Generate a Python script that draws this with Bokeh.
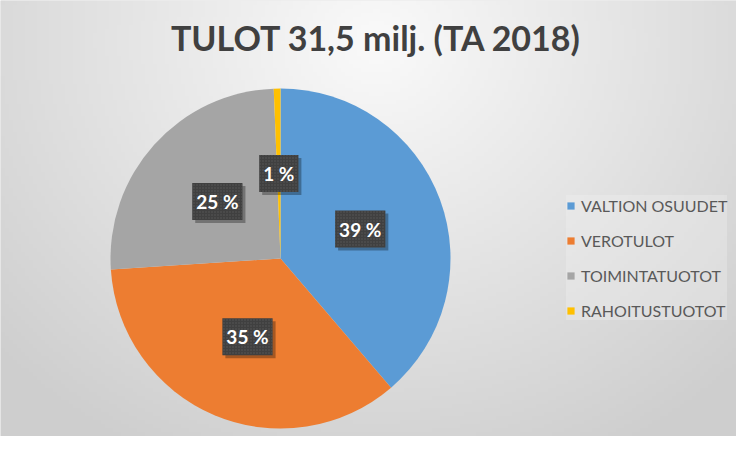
import numpy as np
from bokeh.plotting import figure
from bokeh.models import ColumnDataSource, Range1d, Label
from bokeh.core.properties import value
from bokeh.embed import file_html
from bokeh.resources import INLINE

# ---- data ----
title_text = "TULOT 31,5 milj. (TA 2018)"
categories = ["VALTION OSUUDET", "VEROTULOT", "TOIMINTATUOTOT", "RAHOITUSTUOTOT"]
amounts = [12.2, 11.1, 8.0, 0.2]   # milj. €
colors = ["#5b9bd5", "#ed7d31", "#a5a5a5", "#ffc000"]

W, H = 736, 436
p = figure(width=W, height=H, x_range=Range1d(0, W), y_range=Range1d(0, H),
           x_axis_type=None, y_axis_type=None, toolbar_location=None,
           output_backend="svg", min_border=0, outline_line_color=None,
           background_fill_color="#dcdcdc", border_fill_color="#dcdcdc")
p.grid.visible = False

# background radial gradient (style)
gw, gh = 184, 109
gx, gy = np.meshgrid(np.linspace(0, W, gw), np.linspace(0, H, gh))
cx, cy = 376, H - 40
d = np.sqrt(((gx - cx) / 520.0) ** 2 + ((gy - cy) / 470.0) ** 2)
d = np.clip(d, 0, 1)
lv = (250 - (250 - 206) * d).astype(np.uint32)
img = (255 << 24) | (lv << 16) | (lv << 8) | lv
p.image_rgba(image=[img.view(np.uint32)], x=0, y=0, dw=W, dh=H)

# ---- pie ----
vals = np.array(amounts, dtype=float)
frac = vals / vals.sum()
cum = np.concatenate([[0], np.cumsum(frac)])
start = np.pi / 2 - 2 * np.pi * cum[:-1]
end = np.pi / 2 - 2 * np.pi * cum[1:]
pcx, pcy, R = 280, 178, 170
mid = (start + end) / 2
src = ColumnDataSource(dict(name=categories, start=start, end=end, color=colors,
                            lx=pcx + 0.5 * R * np.cos(mid), ly=pcy + 0.5 * R * np.sin(mid),
                            lab=["%d %%" % round(f * 100) for f in frac]))
wr = p.wedge(x=pcx, y=pcy, radius=R, start_angle="start", end_angle="end",
             direction="clock", fill_color="color", line_color=None, source=src,
             legend_field="name")

# label shadows
p.text(x="lx", y="ly", text="lab", source=src, text_align="center",
       text_baseline="middle", text_font=value("Lato"), text_font_style="bold",
       text_font_size="19px", text_alpha=0, x_offset=3, y_offset=3,
       padding=(4, 7), background_fill_color="black", background_fill_alpha=0.3)
# labels
p.text(x="lx", y="ly", text="lab", source=src, text_align="center",
       text_baseline="middle", text_font=value("Lato"), text_font_style="bold",
       text_font_size="19px", text_color="white",
       padding=(4, 7), background_fill_color="#404040",
       background_hatch_pattern="dot", background_hatch_color="#5a5a5a",
       background_hatch_scale=3)

# title
p.add_layout(Label(x=376, y=H - 37, text=title_text, text_align="center",
                   text_baseline="alphabetic", text_font="Lato",
                   text_font_style="bold", text_font_size="34px",
                   text_color="#404040"))

legend = p.legend[0]
legend.location = (566, 116)
legend.label_text_font = "Lato"
legend.label_text_font_size = "16px"
legend.label_text_color = "#595959"
legend.glyph_width = 9
legend.glyph_height = 9
legend.label_height = 20
legend.label_standoff = 6
legend.spacing = 15
legend.padding = 10
legend.border_line_color = None
legend.background_fill_color = "#f2f2f2"
legend.background_fill_alpha = 0.35

open("out.html", "w").write(file_html(p, INLINE))
